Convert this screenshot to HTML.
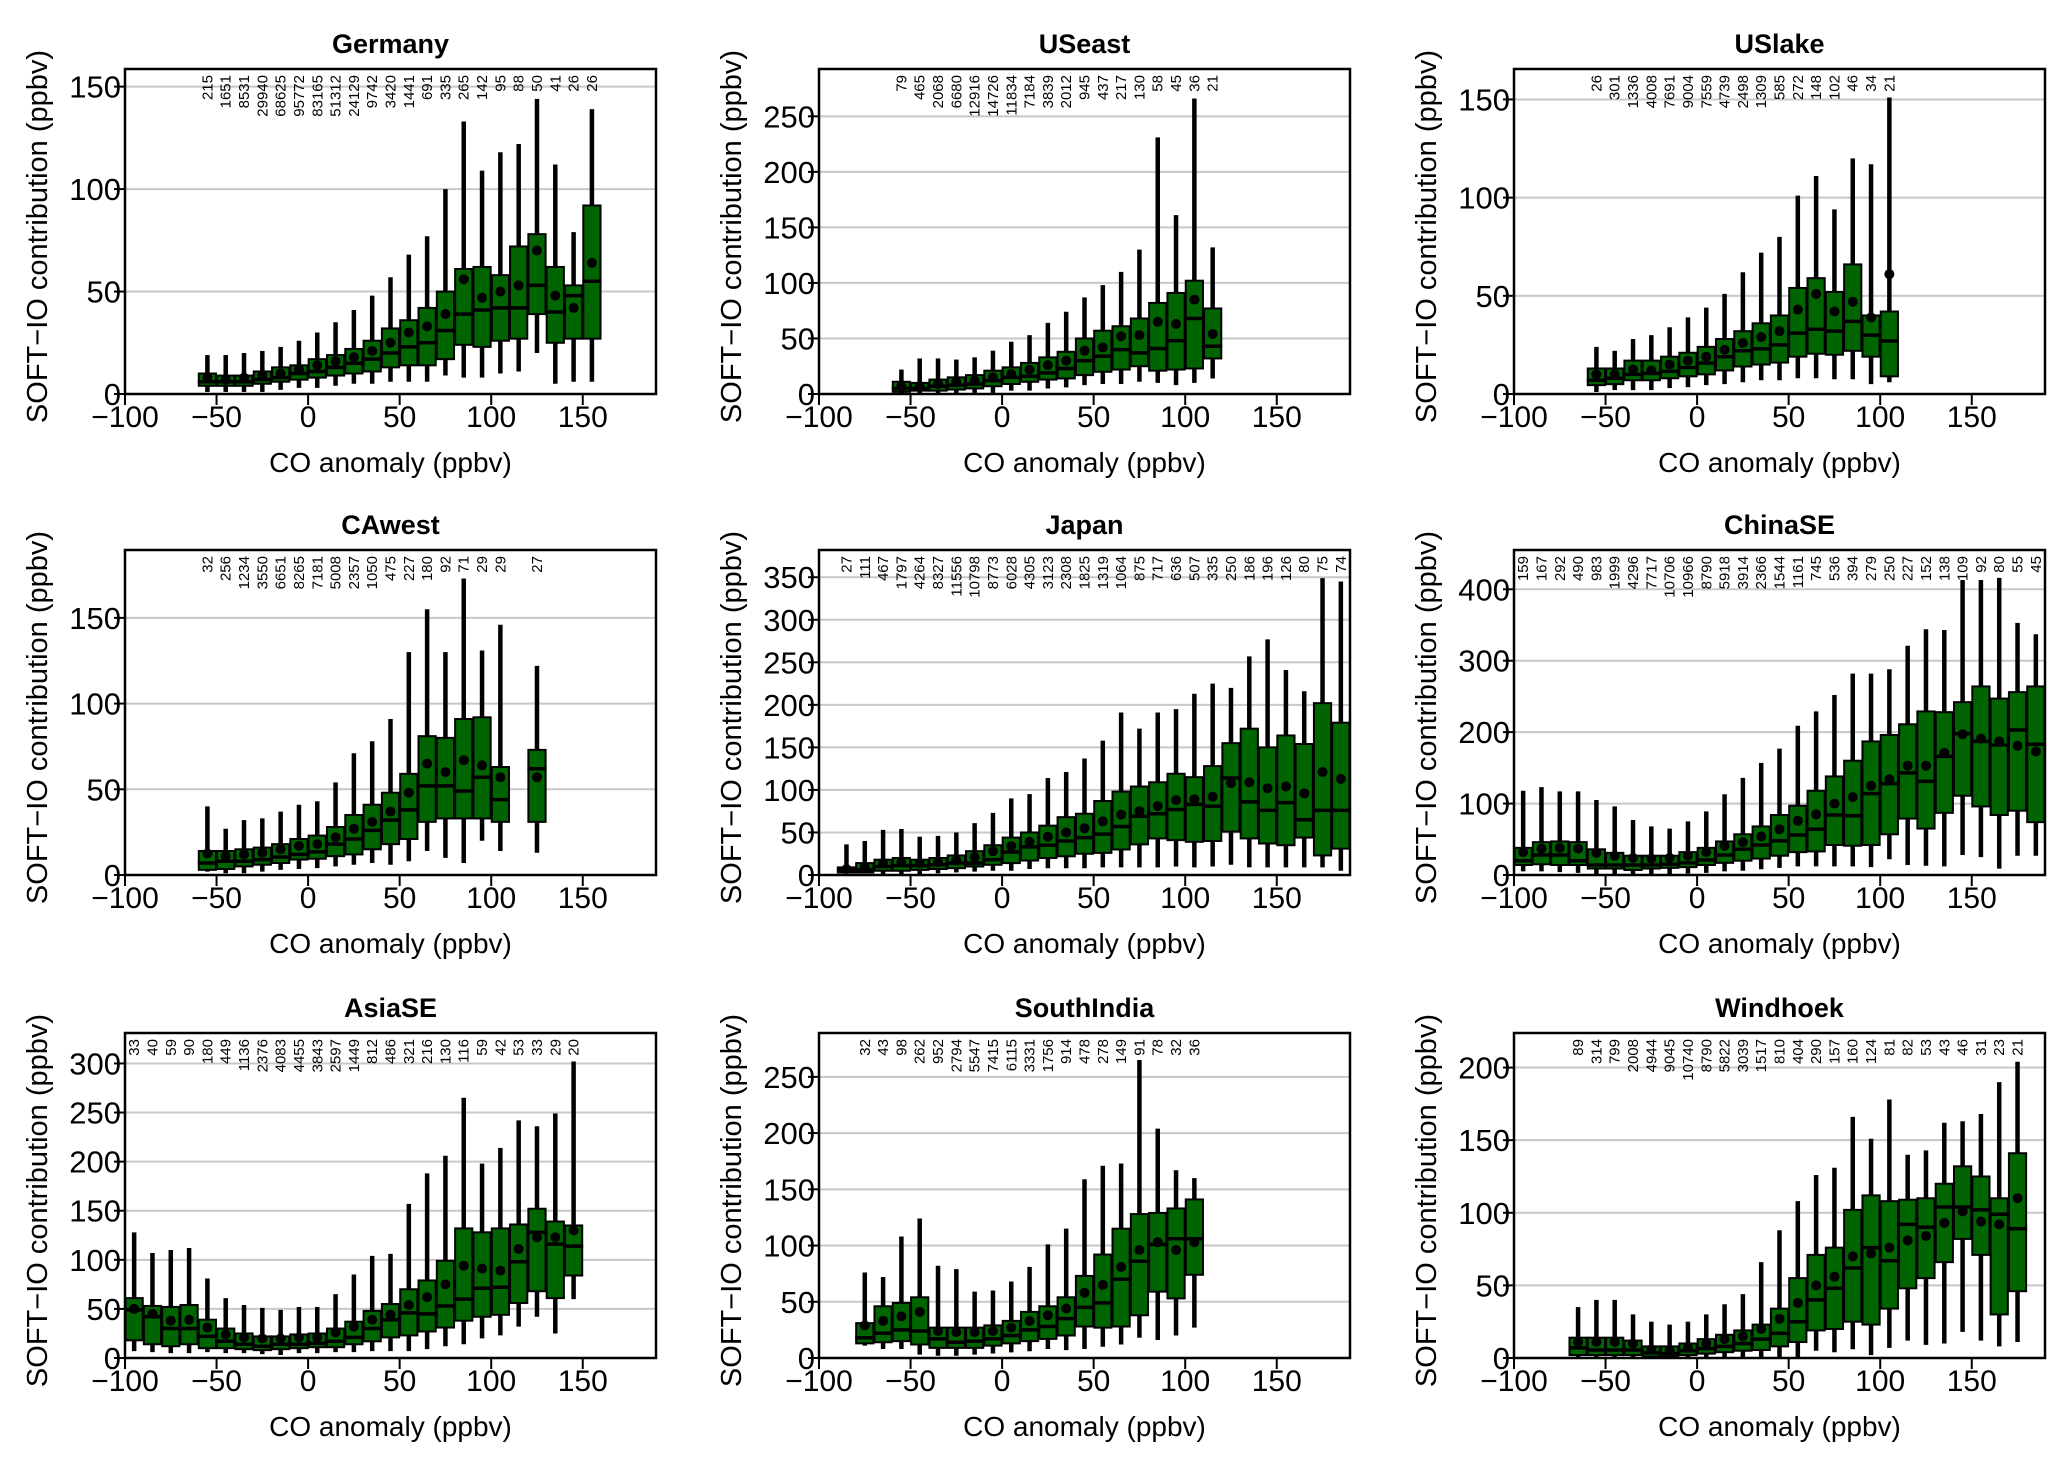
<!DOCTYPE html>
<html><head><meta charset="utf-8"><style>
html,body{margin:0;padding:0;background:#fff;}
svg{display:block;font-family:"Liberation Sans",Arial,sans-serif;}
</style></head><body>
<svg id="fig" width="2060" height="1467" viewBox="0 0 2060 1467" xmlns="http://www.w3.org/2000/svg"></svg>
<script>
// ---------------- data ----------------
const germanyCenters=[-55,-45,-35,-25,-15,-5,5,15,25,35,45,55,65,75,85,95,105,115,125,135,145,155];
const germanyCounts=[215,1651,8531,29940,68625,95772,83165,51312,24129,9742,3420,1441,691,335,265,142,95,88,50,41,26,26];
const germanyLow=[1,1,1,1,2,3,3,4,5,5,6,6,6,9,8,8,10,11,20,5,6,6];
const germanyQ1=[4,4,4,5,6,7,8,9,10,11,13,14,14,17,24,23,26,27,39,25,27,27];
const germanyMed=[6,6,6,7,8,10,11,13,15,17,20,23,25,31,39,41,42,42,53,40,48,55];
const germanyQ3=[10,9,9,11,13,14,17,19,22,26,32,36,42,50,61,62,58,72,78,62,53,92];
const germanyHigh=[19,19,20,21,23,26,30,35,41,48,57,68,77,100,133,109,118,122,144,112,79,139];
const germanyMean=[8,7,8,9,10,12,14,16,18,21,25,30,33,39,56,47,50,53,70,48,42,64];

const useastCenters=[-55,-45,-35,-25,-15,-5,5,15,25,35,45,55,65,75,85,95,105,115];
const useastCounts=[79,465,2068,6680,12916,14726,11834,7184,3839,2012,945,437,217,130,58,45,36,21];
const useastLow=[0,0,0,0,1,1,3,3,5,6,8,9,9,11,10,8,10,14];
const useastQ1=[2,3,3,4,5,7,9,11,13,14,17,20,22,25,21,22,23,32];
const useastMed=[5,5,7,8,9,12,15,16,19,23,30,34,40,37,41,48,68,43];
const useastQ3=[11,10,13,15,17,21,24,28,33,38,50,57,61,68,82,91,102,77];
const useastHigh=[22,32,32,31,33,39,47,53,64,74,87,98,110,130,231,161,266,132];
const useastMean=[7,7,9,11,12,15,18,22,26,30,39,42,52,53,65,63,85,54];

const uslakeCenters=[-55,-45,-35,-25,-15,-5,5,15,25,35,45,55,65,75,85,95,105];
const uslakeCounts=[26,301,1336,4008,7691,9004,7559,4739,2498,1309,585,272,148,102,46,34,21];
const uslakeLow=[1,2,2,2,3,3.5,4.5,5,6,7,7,8,8,7.5,7.5,5,6];
const uslakeQ1=[4.5,5,7,7,8,9,10,12,14,15,16,19,20.5,20,22,19,9];
const uslakeMed=[7,8,10,10.5,11.5,13.5,15.7,19,22,23,25,31,33,32,37,30,27];
const uslakeQ3=[13,13,17,17,19,21,24,28,32,36,40,54,59,52,66,40,42];
const uslakeHigh=[24,22,28,30,34,39,44,51,62,72,80,101,111,94,120,117,151];
const uslakeMean=[10,10,12.5,12,15,17,19,22.5,26,29,32,43,51,42,47,39,61];

const cawestCenters=[-55,-45,-35,-25,-15,-5,5,15,25,35,45,55,65,75,85,95,105,125];
const cawestCounts=[32,256,1234,3550,6651,8265,7181,5008,2357,1050,475,227,180,92,71,29,29,27];
const cawestLow=[2,1,1,2,3,3.5,4,5,6,7,6,8,14,10,7,20,14,13];
const cawestQ1=[3,3.5,5,6,7,9,9.5,11,12,15,18,21,31,33,33,33,31,31];
const cawestMed=[7,8,8,9,10.5,12,13.5,18,21,26,32,38,52,52,49,57,44,62];
const cawestQ3=[14,14,15,16,18,21,23,28,35,41,48,59,81,80,91,92,63,73];
const cawestHigh=[40,27,32,33,37,41,43,54,71,78,91,130,155,130,173,131,146,122];
const cawestMean=[12.5,11,12,13,15,17,18,22,27,31,37,48,65,60,67,64,57,57];

const japanCenters=[-85,-75,-65,-55,-45,-35,-25,-15,-5,5,15,25,35,45,55,65,75,85,95,105,115,125,135,145,155,165,175,185];
const japanCounts=[27,111,467,1797,4264,8327,11556,10798,8773,6028,4305,3123,2308,1825,1319,1064,875,717,636,507,335,250,186,196,126,80,75,74];
const japanLow=[2,2,1,1,1,2,3,4,5,5,7,8,8,8,9,9,9,9,10,9,10,12,9,9,9,9,9,5];
const japanQ1=[3,3,5,5,6,7,8,10,12,14,17,20,22,25,26,30,36,43,41,39,40,51,43,37,35,44,23,31];
const japanMed=[6,6,10,11,11,12,14,14,18,27,33,35,40,44,48,57,69,72,77,83,81,114,86,76,85,65,76,76];
const japanQ3=[9,14,18,20,18,20,23,28,35,44,50,58,68,72,87,98,104,109,119,115,128,155,172,150,164,154,202,179];
const japanHigh=[36,40,53,54,45,46,50,61,73,90,95,114,121,137,158,191,172,191,195,213,225,220,257,277,241,216,349,345];
const japanMean=[7,9,14,15,14,15,17,21,28,34,39,45,50,55,63,71,75,81,88,89,92,108,109,102,104,96,121,113];

const chinaCenters=[-95,-85,-75,-65,-55,-45,-35,-25,-15,-5,5,15,25,35,45,55,65,75,85,95,105,115,125,135,145,155,165,175,185];
const chinaCounts=[159,167,292,490,983,1999,4296,7717,10706,10966,8790,5918,3914,2366,1544,1161,745,536,394,279,250,227,152,138,109,92,80,55,45];
const chinaLow=[5,5,4,3,0,0,0,0,0,2,3,5,6,8,10,12,12,12,12,11,22,14,13,12,28,25,9,27,27];
const chinaQ1=[14,15,14,14,9,9,7,9,10,11,14,17,20,23,27,32,33,42,41,42,57,79,65,87,111,96,84,90,74];
const chinaMed=[20,28,28,20,14,14,14,14,15,17,21,28,36,42,48,56,64,84,83,114,128,143,131,166,198,187,182,203,183];
const chinaQ3=[38,46,47,46,36,31,27,27,27,32,38,47,57,68,84,97,118,138,160,187,196,211,229,228,242,264,247,256,264];
const chinaHigh=[118,123,117,117,105,96,77,68,65,75,89,113,136,157,177,209,229,252,282,282,288,321,344,343,413,413,416,353,337];
const chinaMean=[32,37,38,37,31,27,24,23,24,27,32,41,46,54,64,76,85,100,109,125,134,153,153,171,197,191,187,181,173];

const asiaCenters=[-95,-85,-75,-65,-55,-45,-35,-25,-15,-5,5,15,25,35,45,55,65,75,85,95,105,115,125,135,145];
const asiaCounts=[33,40,59,90,180,449,1136,2376,4083,4455,3843,2597,1449,812,486,321,216,130,116,59,42,53,33,29,20];
const asiaLow=[7,6,5,5,6,5,5,4,3,5,5,6,6,7,7,7,9,12,14,20,23,32,42,25,60];
const asiaQ1=[18,14,12,14,10,10,9,8,9,10,11,11,14,17,21,23,27,31,38,42,44,56,68,61,84];
const asiaMed=[49,42,30,30,22,17,14,12,14,14,15,17,21,30,39,46,45,53,60,71,72,98,128,116,114];
const asiaQ3=[61,53,52,54,39,30,25,22,22,24,25,30,37,48,55,70,79,99,132,128,132,136,152,139,135];
const asiaHigh=[128,107,110,112,81,61,54,51,49,52,52,65,85,104,106,157,188,206,265,198,214,242,236,249,302];
const asiaMean=[50,45,38,39,31,24,21,20,20,21,21,26,32,39,44,54,62,75,94,91,89,111,123,123,130];

const indiaCenters=[-75,-65,-55,-45,-35,-25,-15,-5,5,15,25,35,45,55,65,75,85,95,105];
const indiaCounts=[32,43,98,262,952,2794,5547,7415,6115,3331,1756,914,478,278,149,91,78,32,36];
const indiaLow=[11,8,8,3,2,2,3,4,5,6,8,7,8,10,12,18,16,20,27];
const indiaQ1=[13,14,15,12,9,9,9,11,13,15,17,20,28,27,28,38,59,53,74];
const indiaMed=[18,22,25,24,17,14,15,17,20,25,28,35,45,49,70,86,101,106,106];
const indiaQ3=[31,46,49,54,27,27,27,29,33,41,46,54,73,92,115,128,129,133,141];
const indiaHigh=[76,72,108,124,82,79,59,60,68,81,101,115,159,171,173,265,204,167,160];
const indiaMean=[29,33,37,41,24,23,23,24,27,33,38,44,58,65,81,96,103,96,103];

const windhoekCenters=[-65,-55,-45,-35,-25,-15,-5,5,15,25,35,45,55,65,75,85,95,105,115,125,135,145,155,165,175];
const windhoekCounts=[89,314,799,2008,4944,9045,10740,8790,5822,3039,1517,810,404,290,157,160,124,81,82,53,43,46,31,23,21];
const windhoekLow=[0,0,0,0,0,0,0,0,0,0,0,0,0,5,4,6,2,7,12,9,10,18,12,8,11];
const windhoekQ1=[2,2,2,2,1,1,2,3,4,5,5.5,8,11,19,20,25,23,34,48,55,66,82,71,30,46];
const windhoekMed=[7,5.5,5.5,5.5,3.5,3,5,6.5,8,10,13,17,25,40,48,62,76,67,92,90,104,104,102,99,89];
const windhoekQ3=[14,14,14,12,8,8,10,13,16,19,23,34,55,71,76,102,112,108,109,110,120,132,125,110,141];
const windhoekHigh=[35,40,40,30,25,23,25,30,37,44,66,88,108,126,131,166,151,178,140,143,162,163,168,190,204];
const windhoekMean=[11,11,11,10,6,5,7,10,13,15,20,27,38,50,56,70,72,76,81,84,93,101,94,92,110];

const xTicks=[-100,-50,0,50,100,150];

const panels=[
 {key:'germany',title:'Germany',col:0,row:0,ymax:158.6,yt:[0,50,100,150],c:germanyCenters,n:germanyCounts,lo:germanyLow,q1:germanyQ1,md:germanyMed,q3:germanyQ3,hi:germanyHigh,mn:germanyMean},
 {key:'useast',title:'USeast',col:1,row:0,ymax:292.6,yt:[0,50,100,150,200,250],c:useastCenters,n:useastCounts,lo:useastLow,q1:useastQ1,md:useastMed,q3:useastQ3,hi:useastHigh,mn:useastMean},
 {key:'uslake',title:'USlake',col:2,row:0,ymax:165.5,yt:[0,50,100,150],c:uslakeCenters,n:uslakeCounts,lo:uslakeLow,q1:uslakeQ1,md:uslakeMed,q3:uslakeQ3,hi:uslakeHigh,mn:uslakeMean},
 {key:'cawest',title:'CAwest',col:0,row:1,ymax:189.6,yt:[0,50,100,150],c:cawestCenters,n:cawestCounts,lo:cawestLow,q1:cawestQ1,md:cawestMed,q3:cawestQ3,hi:cawestHigh,mn:cawestMean},
 {key:'japan',title:'Japan',col:1,row:1,ymax:382,yt:[0,50,100,150,200,250,300,350],c:japanCenters,n:japanCounts,lo:japanLow,q1:japanQ1,md:japanMed,q3:japanQ3,hi:japanHigh,mn:japanMean},
 {key:'chinase',title:'ChinaSE',col:2,row:1,ymax:455,yt:[0,100,200,300,400],c:chinaCenters,n:chinaCounts,lo:chinaLow,q1:chinaQ1,md:chinaMed,q3:chinaQ3,hi:chinaHigh,mn:chinaMean},
 {key:'asiase',title:'AsiaSE',col:0,row:2,ymax:331,yt:[0,50,100,150,200,250,300],c:asiaCenters,n:asiaCounts,lo:asiaLow,q1:asiaQ1,md:asiaMed,q3:asiaQ3,hi:asiaHigh,mn:asiaMean},
 {key:'southindia',title:'SouthIndia',col:1,row:2,ymax:289,yt:[0,50,100,150,200,250],c:indiaCenters,n:indiaCounts,lo:indiaLow,q1:indiaQ1,md:indiaMed,q3:indiaQ3,hi:indiaHigh,mn:indiaMean},
 {key:'windhoek',title:'Windhoek',col:2,row:2,ymax:223.8,yt:[0,50,100,150,200],c:windhoekCenters,n:windhoekCounts,lo:windhoekLow,q1:windhoekQ1,md:windhoekMed,q3:windhoekQ3,hi:windhoekHigh,mn:windhoekMean}
];

// ---------------- layout ----------------
const colLeft=[125,819,1514], rowTop=[69,550,1033], PW=531, PH=325;
const XMIN=-100, XMAX=190, BOXW=9.4;
const NS='http://www.w3.org/2000/svg';
const svg=document.getElementById('fig');
function mk(tag,attrs,parent){const e=document.createElementNS(NS,tag);for(const k in attrs)e.setAttribute(k,attrs[k]);(parent||svg).appendChild(e);return e;}

panels.forEach((p,pi)=>{
  const L=colLeft[p.col], T=rowTop[p.row], B=T+PH, R=L+PW;
  const sx=v=>L+(v-XMIN)/(XMAX-XMIN)*PW;
  const sy=v=>B-v/p.ymax*PH;
  const g=mk('g',{});
  
  
  const clip=mk('clipPath',{id:'clip'+pi},g);
  mk('rect',{x:L,y:T,width:PW,height:PH},clip);

  const title=mk('text',{x:(L+R)/2,y:T-16,'text-anchor':'middle','font-size':27,'font-weight':'bold'},g);
  title.textContent=p.title;
  
  

  // grid + y ticks
  p.yt.forEach(v=>{
    const y=sy(v);
    if(v>0){const gl=mk('line',{x1:L,x2:R,y1:y,y2:y,stroke:'#c8c8c8','stroke-width':2},g);
      
      }
    mk('line',{x1:L-11,x2:L,y1:y,y2:y,stroke:'#000','stroke-width':2},g);
    const t=mk('text',{x:L-4,y:y+11,'text-anchor':'end','font-size':31},g);
    t.textContent=v;
    
    
  });
  // x ticks
  xTicks.forEach(v=>{
    const x=sx(v);
    mk('line',{x1:x,x2:x,y1:B,y2:B+11,stroke:'#000','stroke-width':2},g);
    const t=mk('text',{x:x,y:B+33,'text-anchor':'middle','font-size':30},g);
    t.textContent=(v<0?'\u2212'+(-v):v);
    
    
  });
  const xt=mk('text',{x:(L+R)/2,y:B+78,'text-anchor':'middle','font-size':28},g);
  xt.textContent='CO anomaly (ppbv)';
  
  
  const yx=L-78, yy=T+PH/2+5;
  const yt=mk('text',{x:yx,y:yy,'text-anchor':'middle','font-size':29,transform:`rotate(-90 ${yx} ${yy})`},g);
  yt.textContent='SOFT\u2212IO contribution (ppbv)';
  
  

  const marks=mk('g',{'clip-path':`url(#clip${pi})`},g);
  p.c.forEach((c,i)=>{
    const x=sx(c), hw=BOXW/2/(XMAX-XMIN)*PW;
    const w=mk('line',{x1:x,x2:x,y1:sy(p.lo[i]),y2:sy(p.hi[i]),stroke:'#000','stroke-width':4.5},marks);
    
    
    const b=mk('rect',{x:x-hw,y:sy(p.q3[i]),width:2*hw,height:Math.max(0.5,sy(p.q1[i])-sy(p.q3[i])),fill:'#006400',stroke:'#000','stroke-width':2},marks);
    
    
    const m=mk('line',{x1:x-hw-1,x2:x+hw+1,y1:sy(p.md[i]),y2:sy(p.md[i]),stroke:'#000','stroke-width':3.5},marks);
    
    
    const d=mk('circle',{cx:x,cy:sy(p.mn[i]),r:5,fill:'#000'},marks);
    
    
    const n=mk('text',{x:x+5,y:T+6,'text-anchor':'end','font-size':15,transform:`rotate(-90 ${x+5} ${T+6})`},g);
    n.textContent=p.n[i];
    
    
  });
  const fr=mk('rect',{x:L,y:T,width:PW,height:PH,fill:'none',stroke:'#000','stroke-width':2.5},g);
  
  
});
</script>
</body></html>
